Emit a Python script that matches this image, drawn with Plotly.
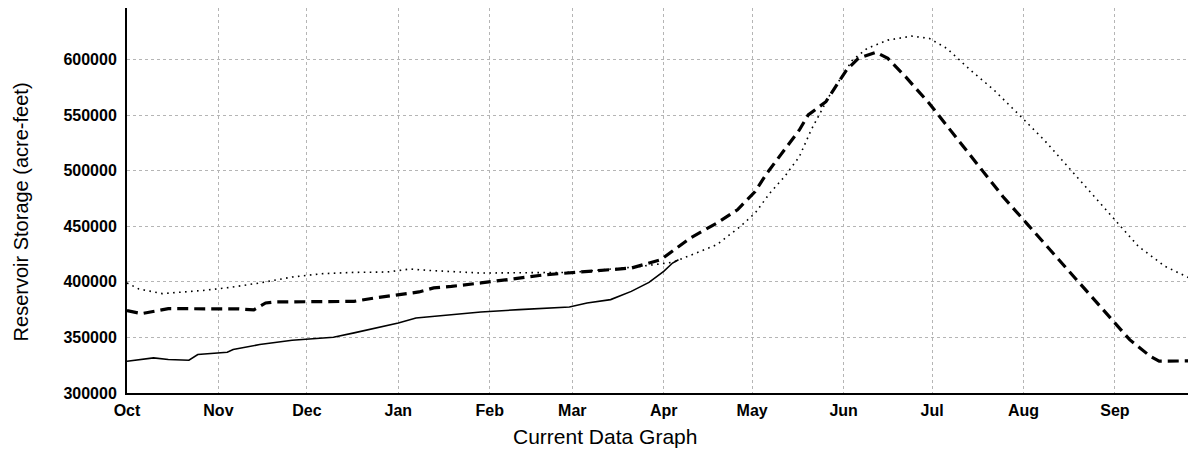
import plotly.graph_objects as go
import pandas as pd

# ---- data ----
month_labels = ["Oct", "Nov", "Dec", "Jan", "Feb", "Mar", "Apr", "May", "Jun", "Jul", "Aug", "Sep"]
y_ticks = [300000, 350000, 400000, 450000, 500000, 550000, 600000]

current_dates = ["2000-10-01", "2000-10-10", "2000-10-15", "2000-10-22", "2000-10-25", "2000-11-04",
                 "2000-11-06", "2000-11-15", "2000-11-26", "2000-12-10", "2000-12-17", "2001-01-01",
                 "2001-01-07", "2001-01-15", "2001-01-29", "2001-02-11", "2001-02-28", "2001-03-06",
                 "2001-03-14", "2001-03-21", "2001-03-27", "2001-04-01", "2001-04-04", "2001-04-06"]
current_vals = [328600, 331600, 330100, 329500, 334600, 336600,
                339100, 343600, 347400, 350100, 354100, 363000,
                367500, 369600, 372900, 375000, 377400, 381000,
                384000, 391400, 399500, 409400, 416900, 419900]

dashed_dates = ["2000-10-01", "2000-10-06", "2000-10-15", "2000-11-08", "2000-11-13", "2000-11-17",
                "2000-11-20", "2000-12-17", "2000-12-24", "2001-01-01", "2001-01-08", "2001-01-13",
                "2001-01-19", "2001-01-29", "2001-02-20", "2001-03-21", "2001-03-31", "2001-04-10",
                "2001-04-19", "2001-04-26", "2001-05-02", "2001-05-06", "2001-05-11", "2001-05-17",
                "2001-05-20", "2001-05-26", "2001-05-30", "2001-06-02", "2001-06-06", "2001-06-12",
                "2001-06-16", "2001-06-22", "2001-06-30", "2001-07-08", "2001-07-17", "2001-07-25",
                "2001-08-02", "2001-08-11", "2001-08-20", "2001-08-29", "2001-09-06", "2001-09-13",
                "2001-09-16", "2001-09-29"]
dashed_vals = [374100, 371400, 375900, 375600, 374800, 381000,
               381900, 382400, 385500, 388500, 390900, 394500,
               395900, 399000, 406400, 412400, 419900, 439400,
               452800, 464800, 481200, 497700, 515700, 536600,
               550100, 562000, 578500, 590500, 601000, 606400,
               601000, 584500, 560600, 533700, 503700, 476800,
               452800, 425900, 399000, 372000, 348000, 333000,
               328600, 329000]

dotted_dates = ["2000-10-01", "2000-10-05", "2000-10-13", "2000-10-27", "2000-11-05", "2000-11-15",
                "2000-11-26", "2000-12-06", "2000-12-17", "2000-12-28", "2001-01-05", "2001-01-11",
                "2001-01-29", "2001-02-14", "2001-03-01", "2001-03-23", "2001-04-04", "2001-04-12",
                "2001-04-19", "2001-04-27", "2001-05-02", "2001-05-07", "2001-05-12", "2001-05-17",
                "2001-05-21", "2001-05-24", "2001-05-27", "2001-06-04", "2001-06-09", "2001-06-16",
                "2001-06-24", "2001-06-30", "2001-07-06", "2001-07-14", "2001-07-22", "2001-07-30",
                "2001-08-08", "2001-08-17", "2001-08-25", "2001-09-01", "2001-09-09", "2001-09-18",
                "2001-09-29"]
dotted_vals = [399000, 393600, 389400, 392300, 395000, 399000,
               404300, 407300, 408500, 408800, 411500, 410300,
               407900, 407900, 408500, 413500, 417500, 425900,
               433400, 449800, 461800, 479800, 494700, 512600,
               536600, 551600, 566500, 599500, 610000, 617400,
               621000, 619000, 610000, 590500, 572500, 551600,
               527600, 500700, 476800, 455800, 431800, 413900,
               400000]

FONT = "Liberation Sans, Arial, sans-serif"

fig = go.Figure()
fig.add_trace(go.Scatter(x=dotted_dates, y=dotted_vals, mode="lines",
                         line=dict(color="black", width=1.6, dash="1.6px,4.4px"),
                         showlegend=False, hoverinfo="skip"))
fig.add_trace(go.Scatter(x=dashed_dates, y=dashed_vals, mode="lines",
                         line=dict(color="black", width=3.2, dash="11px,6px"),
                         showlegend=False, hoverinfo="skip"))
fig.add_trace(go.Scatter(x=current_dates, y=current_vals, mode="lines",
                         line=dict(color="black", width=1.6),
                         showlegend=False, hoverinfo="skip"))

start = pd.Timestamp("2000-10-01")
end = start + pd.Timedelta(days=362.5)

# the page body adds an 8px offset, so the figure is sized to fill the rest of the window
fig.update_layout(
    width=1188, height=443,
    margin=dict(l=119, r=0, t=0, b=58),
    paper_bgcolor="white", plot_bgcolor="white",
    font=dict(family=FONT, color="black"),
    showlegend=False,
    xaxis=dict(
        type="date", range=[start, end],
        tick0="2000-10-01", dtick="M1", tickformat="%b",
        showgrid=True, gridcolor="#b5b5b5", griddash="dot", gridwidth=1,
        showline=True, linecolor="black", linewidth=1.5,
        ticks="", ticklabelstandoff=2,
        tickfont=dict(family=FONT, size=16, color="black", weight="bold"),
        zeroline=False,
    ),
    yaxis=dict(
        range=[300000, 646300],
        tickvals=y_ticks, tickformat="d",
        showgrid=True, gridcolor="#b5b5b5", griddash="dot", gridwidth=1,
        showline=True, linecolor="black", linewidth=2,
        ticks="", ticklabelstandoff=5,
        tickfont=dict(family=FONT, size=16, color="black", weight="bold"),
        zeroline=False,
    ),
    annotations=[
        dict(text="Current Data Graph", xref="paper", yref="paper",
             x=(605 - 127) / 1069, y=-0.114, xanchor="center", yanchor="middle",
             showarrow=False, font=dict(family=FONT, size=21, color="black")),
        dict(text="Reservoir Storage (acre-feet)", xref="paper", yref="paper",
             x=(21 - 127) / 1069, y=0.469, xanchor="center", yanchor="middle",
             textangle=-90, showarrow=False, font=dict(family=FONT, size=20, color="black")),
    ],
)

fig.write_html("out.html")
